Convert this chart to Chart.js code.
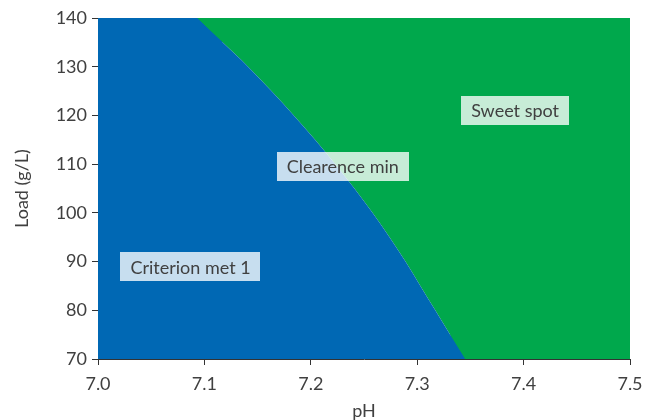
<!DOCTYPE html>
<html>
<head>
<meta charset="utf-8">
<script src="https://cdn.jsdelivr.net/npm/chart.js@4.4.1/dist/chart.umd.min.js"></script>
<style>
  html, body { margin: 0; padding: 0; background: #ffffff; }
  #wrap { width: 656px; height: 420px; }
</style>
</head>
<body>
<div id="wrap"><canvas id="c" width="656" height="420"></canvas></div>
<script>
// Axis ranges
const xRange = [7.0, 7.5];
const yRange = [70, 140];
const xTickStep = 0.1;
const yTickStep = 10;

// Boundary between regions (pH at each load level)
const boundaryLoad = [140, 135, 130, 125, 120, 115, 110, 105, 100, 95, 90, 85, 80, 75, 70];
const boundaryPH   = [7.093, 7.117, 7.141, 7.163, 7.184, 7.204, 7.223, 7.241, 7.258, 7.274, 7.289, 7.303, 7.317, 7.331, 7.345];

// Region labels
const labelText = ['Criterion met 1', 'Clearence min', 'Sweet spot'];
const labelX    = [7.087, 7.230, 7.392];
const labelY    = [88.9, 109.5, 121.1];

const blue = '#0068B4';
const green = '#00A84C';
const textColor = '#404040';
const fontFamily = 'Lato, "Open Sans", sans-serif';

// Curved boundary
const curve = boundaryLoad.map((l, i) => ({x: boundaryPH[i], y: l}));
const last = boundaryPH.length - 1;
// Flat parts left of the curve's top and right of its bottom (drawn underneath,
// overlapping the curve's first/last segment so no seam shows)
const blueLeft = [{x: xRange[0], y: yRange[1]}, {x: boundaryPH[1], y: yRange[1]}];
const greenRight = [{x: boundaryPH[last - 1], y: yRange[0]}, {x: xRange[1], y: yRange[0]}];

const labelPlugin = {
  id: 'regionLabels',
  afterDatasetsDraw(chart) {
    const ctx = chart.ctx;
    const xs = chart.scales.x, ys = chart.scales.y;
    ctx.save();
    ctx.font = '18px ' + fontFamily;
    ctx.textAlign = 'center';
    ctx.textBaseline = 'middle';
    for (let i = 0; i < labelText.length; i++) {
      const px = xs.getPixelForValue(labelX[i]);
      const py = ys.getPixelForValue(labelY[i]);
      const w = ctx.measureText(labelText[i]).width + 20;
      const h = 29;
      ctx.fillStyle = 'rgba(255,255,255,0.78)';
      ctx.fillRect(Math.round(px - w / 2), Math.round(py - h / 2), Math.round(w), h);
      ctx.fillStyle = textColor;
      ctx.fillText(labelText[i], px, py + 1);
    }
    ctx.restore();
  }
};

const areaDefaults = {
  parsing: false,
  borderWidth: 0,
  borderColor: 'rgba(0,0,0,0)',
  pointRadius: 0,
  cubicInterpolationMode: 'monotone'
};

new Chart(document.getElementById('c'), {
  type: 'line',
  data: {
    datasets: [
      Object.assign({ label: 'Criterion met (curve)', data: curve, backgroundColor: blue, fill: 'start', order: 1 }, areaDefaults),
      Object.assign({ label: 'Sweet spot (curve)', data: curve, backgroundColor: green, fill: 'end', order: 1 }, areaDefaults),
      Object.assign({ label: 'Criterion met', data: blueLeft, backgroundColor: blue, fill: 'start', order: 3 }, areaDefaults),
      Object.assign({ label: 'Sweet spot', data: greenRight, backgroundColor: green, fill: 'end', order: 3 }, areaDefaults)
    ]
  },
  options: {
    responsive: false,
    animation: false,
    layout: { padding: { left: 0, right: 26, top: 18, bottom: 0 } },
    plugins: {
      legend: { display: false },
      tooltip: { enabled: false },
      filler: { propagate: false }
    },
    scales: {
      x: {
        type: 'linear',
        min: xRange[0],
        max: xRange[1],
        afterFit(scale) { scale.height = 61; },
        ticks: {
          stepSize: xTickStep,
          color: textColor,
          font: { family: fontFamily, size: 18 },
          padding: 8,
          callback: (v) => v.toFixed(1)
        },
        grid: { display: true, drawOnChartArea: false, color: '#333', tickLength: 6, lineWidth: 1 },
        border: { display: true, color: '#333', width: 1 },
        title: {
          display: true,
          text: 'pH',
          color: textColor,
          font: { family: fontFamily, size: 18, lineHeight: 1.0 },
          padding: { top: 0, bottom: 0 }
        }
      },
      y: {
        type: 'linear',
        min: yRange[0],
        max: yRange[1],
        afterFit(scale) { scale.width = 98; },
        ticks: {
          stepSize: yTickStep,
          color: textColor,
          font: { family: fontFamily, size: 18 },
          padding: 5
        },
        grid: { display: true, drawOnChartArea: false, color: '#333', tickLength: 6, lineWidth: 1 },
        border: { display: true, color: '#333', width: 1 },
        title: {
          display: true,
          text: 'Load (g/L)',
          color: textColor,
          font: { family: fontFamily, size: 18 },
          padding: { top: 11, bottom: 0 }
        }
      }
    }
  },
  plugins: [labelPlugin]
});
</script>
</body>
</html>
